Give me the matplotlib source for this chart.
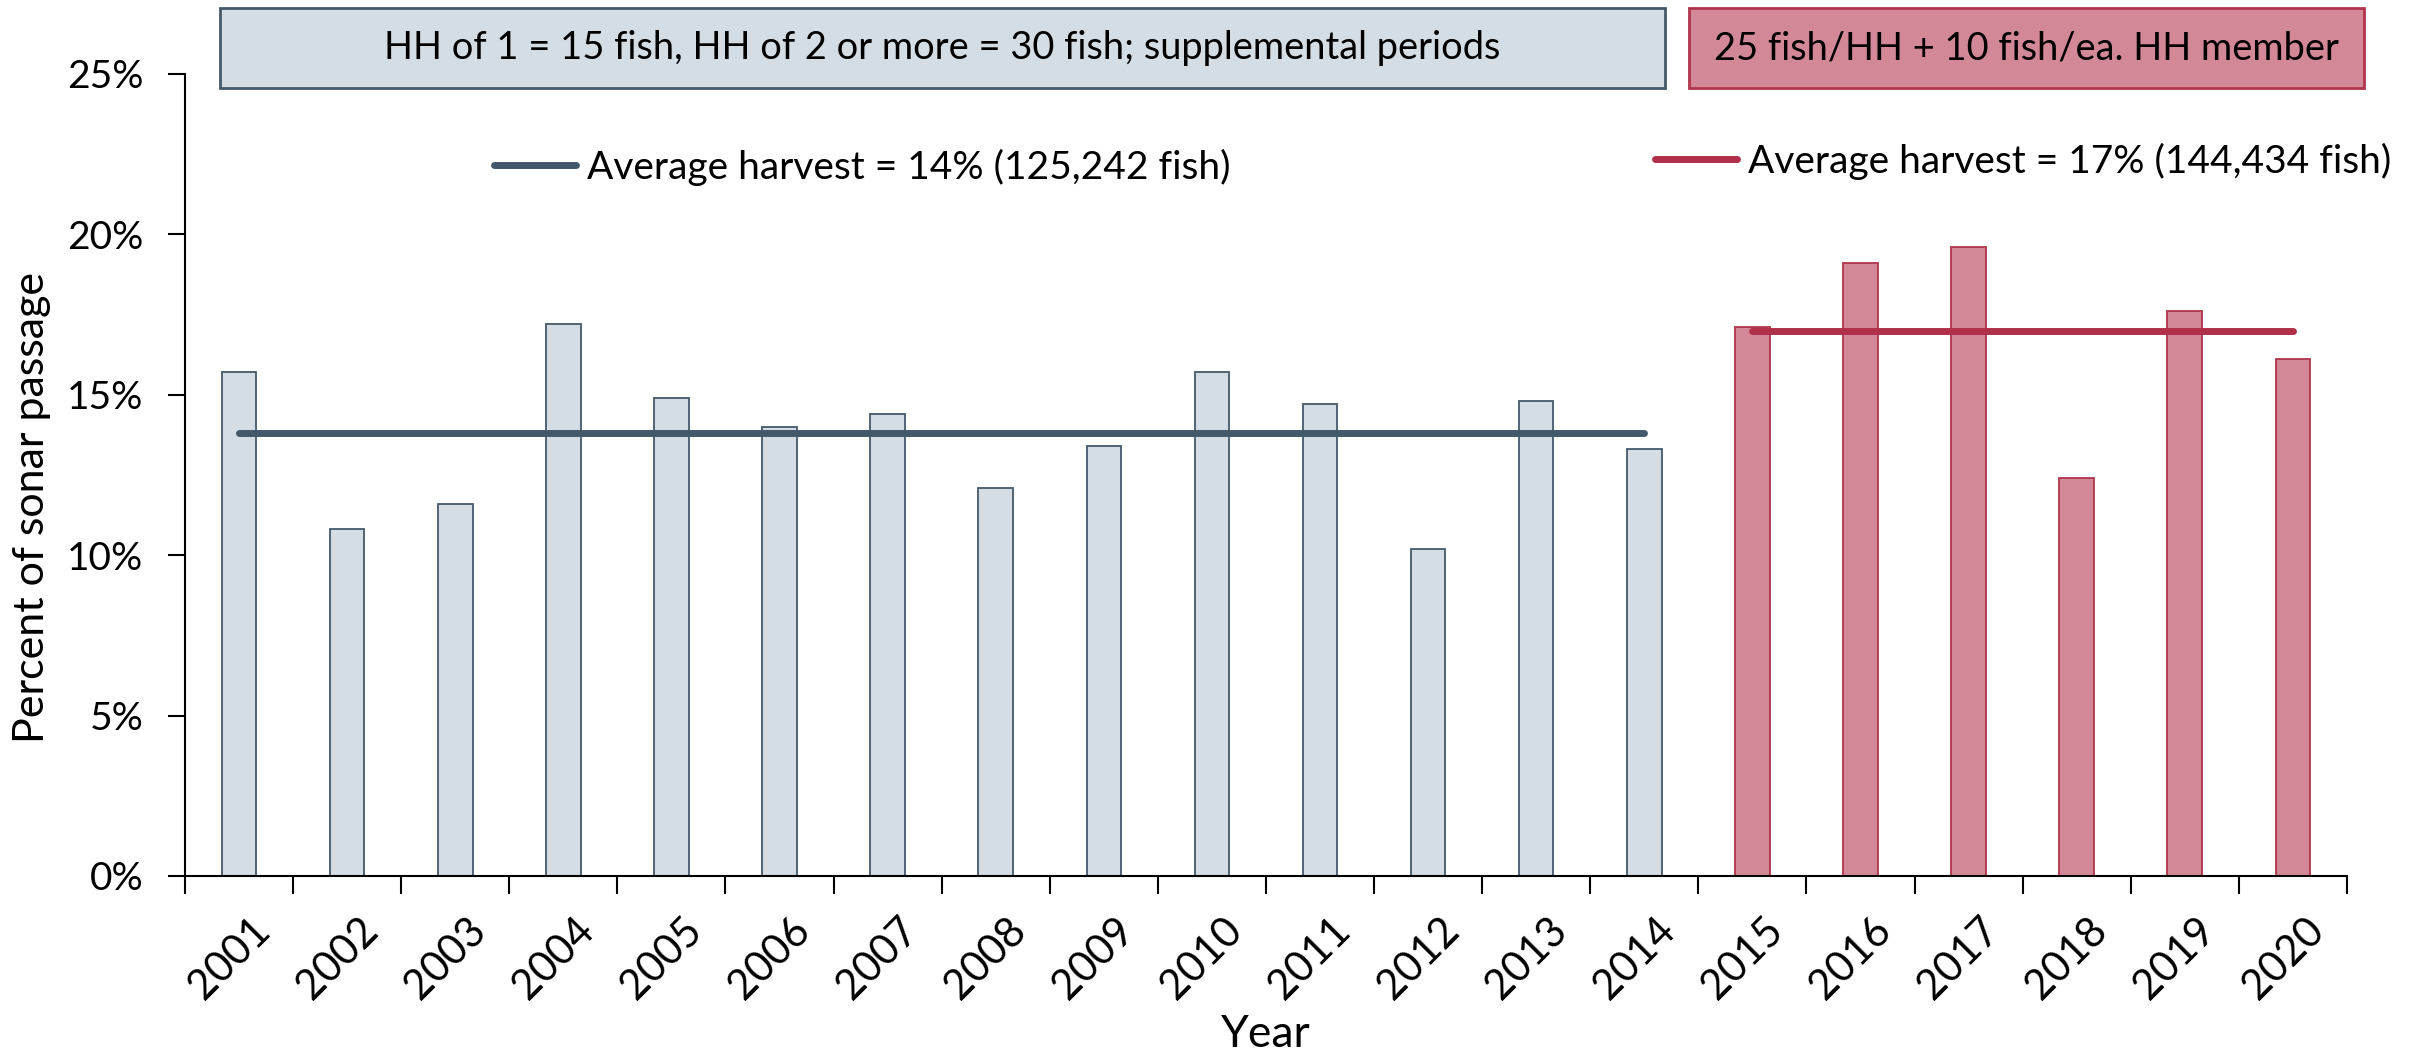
import numpy as np
import matplotlib
matplotlib.use('Agg')
import matplotlib.pyplot as plt
import matplotlib.transforms as mtransforms
from matplotlib.patches import Rectangle
from matplotlib.ticker import FuncFormatter

# harvest as percent of sonar passage
years = ['2001', '2002', '2003', '2004', '2005', '2006', '2007', '2008', '2009', '2010',
         '2011', '2012', '2013', '2014', '2015', '2016', '2017', '2018', '2019', '2020']
harvest_pct = [15.7, 10.8, 11.6, 17.2, 14.9, 14.0, 14.4, 12.1, 13.4, 15.7,
               14.7, 10.2, 14.8, 13.3, 17.1, 19.1, 19.6, 12.4, 17.6, 16.1]
n_early = 14  # 2001-2014 under the old limits
avg_early = 13.8
avg_late = 17.0

label_early = 'Average harvest = 14% (125,242 fish)'
label_late = 'Average harvest = 17% (144,434 fish)'
box_early = 'HH of 1 = 15 fish, HH of 2 or more = 30 fish; supplemental periods'
box_late = '25 fish/HH + 10 fish/ea. HH member'

gray_fill, gray_edge = '#D5DDE4', '#44596A'
red_fill, red_edge = '#D38898', '#B0344C'

plt.rcParams['font.family'] = ['Lato', 'DejaVu Sans']

fig = plt.figure(figsize=(24.15, 10.56), dpi=100)
ax = fig.add_axes([0.0766, 0.1705, 0.8952, 0.7595])

x = np.arange(len(years))
ax.bar(x[:n_early], harvest_pct[:n_early], width=0.32, color=gray_fill,
       edgecolor=gray_edge, linewidth=1.3, zorder=2)
ax.bar(x[n_early:], harvest_pct[n_early:], width=0.32, color=red_fill,
       edgecolor=red_edge, linewidth=1.3, zorder=2)

l1, = ax.plot([x[0], x[n_early - 1]], [avg_early, avg_early], color='#43596B',
              lw=5, solid_capstyle='round', zorder=3)
l2, = ax.plot([x[n_early], x[-1]], [avg_late, avg_late], color='#B0304A',
              lw=5, solid_capstyle='round', zorder=3)

leg1 = ax.legend([l1], [label_early], loc='center left', bbox_to_anchor=(0.1429, 0.884),
                 frameon=False, fontsize=28, handlelength=2.1, handletextpad=0.3,
                 borderpad=0, borderaxespad=0)
ax.add_artist(leg1)
ax.legend([l2], [label_late], loc='center left', bbox_to_anchor=(0.680, 0.8915),
          frameon=False, fontsize=28, handlelength=2.1, handletextpad=0.3,
          borderpad=0, borderaxespad=0)

ax.set_xlim(-0.5, len(years) - 0.5)
ax.set_ylim(0, 25)
ax.set_yticks([0, 5, 10, 15, 20, 25])
ax.yaxis.set_major_formatter(FuncFormatter(lambda v, p: f'{v:.0f}%'))
ax.tick_params(axis='y', length=12, width=1.5, pad=18, labelsize=28)

ax.set_xticks(x)
ax.set_xticklabels(years, rotation=45, ha='right', va='top', rotation_mode='anchor')
ax.tick_params(axis='x', which='major', length=0, pad=25, labelsize=30)
ax.set_xticks(np.arange(-0.5, len(years)), minor=True)
ax.tick_params(axis='x', which='minor', length=13, width=1.5)
shift = mtransforms.ScaledTranslation(11 / 100, 0, fig.dpi_scale_trans)
for lab in ax.get_xticklabels():
    lab.set_transform(lab.get_transform() + shift)

for s in ['top', 'right']:
    ax.spines[s].set_visible(False)
for s in ['left', 'bottom']:
    ax.spines[s].set_linewidth(1.5)

ax.set_xlabel('Year', fontsize=32)
ax.xaxis.set_label_coords(0.5, -0.172)
ax.set_ylabel('Percent of sonar passage', fontsize=31)
ax.yaxis.set_label_coords(-0.062, 0.459)

# regulation boxes above the plot
fig.add_artist(Rectangle((0.0911, 0.9167), 0.5983, 0.0757, transform=fig.transFigure,
                         facecolor=gray_fill, edgecolor=gray_edge, linewidth=2))
fig.text(0.0911 + 0.5983 / 2, 0.9545, box_early, ha='center', va='center', fontsize=27.4)
fig.add_artist(Rectangle((0.6994, 0.9167), 0.2795, 0.0757, transform=fig.transFigure,
                         facecolor=red_fill, edgecolor=red_edge, linewidth=2))
fig.text(0.6994 + 0.2795 / 2, 0.9545, box_late, ha='center', va='center', fontsize=27.4)

fig.savefig('out.png', dpi=100)
